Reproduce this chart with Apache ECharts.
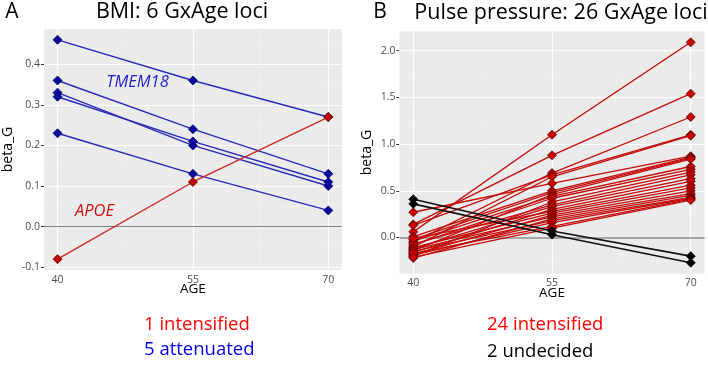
<!DOCTYPE html>
<html>
<head>
<meta charset="utf-8">
<script src="https://cdn.jsdelivr.net/npm/echarts@6/dist/echarts.min.js"></script>
<style>
  html, body { margin: 0; padding: 0; background: #fff; }
  #chart { width: 708px; height: 365px; }
</style>
</head>
<body>
<div id="chart"></div>
<script>
// ages where beta_G was estimated
const ages = [40, 55, 70];
const ageMinor = [47.5, 62.5];

// BMI loci, beta_G at age 40 / 55 / 70
const bmiAttenuated = [
  [0.46, 0.36, 0.27],
  [0.36, 0.24, 0.13],
  [0.33, 0.20, 0.10],
  [0.32, 0.21, 0.11],
  [0.23, 0.13, 0.04]
];
const bmiIntensified = [
  [-0.08, 0.11, 0.27]
];
const bmiTicks = [-0.1, 0.0, 0.1, 0.2, 0.3, 0.4];
const bmiMinor = [-0.05, 0.05, 0.15, 0.25, 0.35, 0.45];

// pulse pressure loci, beta_G at age 40 / 55 / 70
const ppIntensified = [
  [0.06, 1.10, 2.09],
  [0.14, 0.88, 1.54],
  [-0.05, 0.69, 1.29],
  [0.13, 0.67, 1.10],
  [-0.10, 0.65, 1.09],
  [0.27, 0.58, 0.87],
  [0.01, 0.50, 0.86],
  [-0.02, 0.48, 0.85],
  [-0.14, 0.46, 0.84],
  [-0.04, 0.44, 0.76],
  [-0.08, 0.42, 0.73],
  [-0.20, 0.38, 0.70],
  [-0.07, 0.35, 0.67],
  [-0.12, 0.33, 0.63],
  [-0.16, 0.30, 0.60],
  [-0.01, 0.28, 0.56],
  [-0.11, 0.26, 0.53],
  [-0.18, 0.24, 0.50],
  [-0.13, 0.22, 0.47],
  [-0.22, 0.20, 0.45],
  [-0.15, 0.18, 0.43],
  [-0.19, 0.16, 0.42],
  [-0.17, 0.12, 0.41],
  [-0.21, 0.10, 0.40]
];
const ppUndecided = [
  [0.41, 0.07, -0.20],
  [0.36, 0.03, -0.27]
];
const ppTicks = [0.0, 0.5, 1.0, 1.5, 2.0];
const ppMinor = [-0.25, 0.25, 0.75, 1.25, 1.75];

const chart = echarts.init(document.getElementById('chart'));

// ggplot style 5% expansion
function expand(rows) {
  const vals = [].concat(...rows);
  const lo = Math.min(...vals), hi = Math.max(...vals);
  const pad = (hi - lo) * 0.05;
  return [lo - pad, hi + pad];
}
const bmiRange = expand(bmiAttenuated.concat(bmiIntensified));
const ppRange = expand(ppIntensified.concat(ppUndecided));
const ageRange = [ages[0] - 1.5, ages[2] + 1.5];

function lines(rows, idx, color, width) {
  return rows.map(r => ({
    type: 'line',
    xAxisIndex: idx,
    yAxisIndex: idx,
    data: r.map((v, i) => [ages[i], v]),
    symbol: 'none',
    lineStyle: { color: color, width: width },
    silent: true,
    z: 3
  }));
}

function points(rows, idx, fill, border, size) {
  const pts = [];
  rows.forEach(r => r.forEach((v, i) => pts.push([ages[i], v])));
  return {
    type: 'scatter',
    xAxisIndex: idx,
    yAxisIndex: idx,
    data: pts,
    symbol: 'diamond',
    symbolSize: size,
    itemStyle: { color: fill, borderColor: border, borderWidth: 0.8, opacity: 1 },
    silent: true,
    z: 4
  };
}

function gridLines(idx, yMajor, yMinor, zeroColor, zeroWidth) {
  const d = [];
  ageMinor.forEach(v => d.push({ xAxis: v, lineStyle: { color: '#F4F4F4', width: 0.6, type: 'solid' } }));
  yMinor.forEach(v => d.push({ yAxis: v, lineStyle: { color: '#F4F4F4', width: 0.6, type: 'solid' } }));
  ages.forEach(v => d.push({ xAxis: v, lineStyle: { color: '#FFFFFF', width: 1.2, type: 'solid' } }));
  yMajor.forEach(v => d.push({ yAxis: v, lineStyle: { color: '#FFFFFF', width: 1.2, type: 'solid' } }));
  d.push({ yAxis: 0, lineStyle: { color: zeroColor, width: zeroWidth, type: 'solid' } });
  return {
    type: 'scatter',
    xAxisIndex: idx,
    yAxisIndex: idx,
    data: [],
    markLine: {
      silent: true,
      symbol: ['none', 'none'],
      label: { show: false },
      animation: false,
      z: 1,
      data: d
    }
  };
}

const tickText = { color: '#4D4D4D', fontSize: 10.5, fontFamily: 'Open Sans' };
const titleText = { color: '#000', fontSize: 14, fontFamily: 'Open Sans' };

function xAxis(idx) {
  return {
    gridIndex: idx,
    type: 'value',
    min: ageRange[0],
    max: ageRange[1],
    axisLine: { show: false },
    splitLine: { show: false },
    axisTick: { show: true, customValues: ages, length: 3, lineStyle: { color: '#333' } },
    axisLabel: Object.assign({ customValues: ages, margin: 4 }, tickText),
    name: 'AGE',
    nameLocation: 'middle',
    nameGap: 12,
    nameMoveOverlap: false,
    nameTextStyle: Object.assign({}, titleText, { fontSize: 13.5, verticalAlign: 'top' })
  };
}

function yAxis(idx, range, ticks, gap) {
  return {
    gridIndex: idx,
    type: 'value',
    min: range[0],
    max: range[1],
    axisLine: { show: false },
    splitLine: { show: false },
    axisTick: { show: true, customValues: ticks, length: 3, lineStyle: { color: '#333' } },
    axisLabel: Object.assign({ customValues: ticks, margin: 4, formatter: v => v.toFixed(1) }, tickText),
    name: 'beta_G',
    nameLocation: 'middle',
    nameGap: gap,
    nameMoveOverlap: false,
    nameTextStyle: titleText
  };
}

const option = {
  animation: false,
  grid: [
    { left: 38.7, top: 28.9, width: 303.1, height: 241.2, show: true, backgroundColor: '#EBEBEB', borderWidth: 0 },
    { left: 399.4, top: 31.3, width: 305.2, height: 242.4, show: true, backgroundColor: '#EBEBEB', borderWidth: 0 }
  ],
  xAxis: [xAxis(0), xAxis(1)],
  yAxis: [yAxis(0, bmiRange, bmiTicks, 29), yAxis(1, ppRange, ppTicks, 25)],
  series: [].concat(
    gridLines(0, bmiTicks, bmiMinor, '#808080', 1.1),
    gridLines(1, ppTicks, ppMinor, '#A6A6A6', 1.8),
    lines(bmiAttenuated, 0, '#2A2AB8', 1.4),
    lines(bmiIntensified, 0, '#D02828', 1.4),
    points(bmiAttenuated, 0, '#0A0AA0', '#00005A', 9),
    points(bmiIntensified, 0, '#C80000', '#5A0000', 9),
    lines(ppIntensified, 1, '#C40A0A', 1.3),
    lines(ppUndecided, 1, '#111111', 1.6),
    points(ppIntensified, 1, '#D00000', '#4A0000', 9),
    points(ppUndecided, 1, '#000000', '#000000', 9)
  ),
  graphic: [
    { type: 'text', x: 12, y: 12, style: { text: 'A', fontSize: 21, fontFamily: 'Open Sans', fill: '#000', align: 'center', verticalAlign: 'middle' } },
    { type: 'text', x: 182, y: 12, style: { text: 'BMI: 6 GxAge loci', fontSize: 21.5, fontFamily: 'Open Sans', fill: '#000', align: 'center', verticalAlign: 'middle' } },
    { type: 'text', x: 380, y: 12, style: { text: 'B', fontSize: 21, fontFamily: 'Open Sans', fill: '#000', align: 'center', verticalAlign: 'middle' } },
    { type: 'text', x: 561, y: 13, style: { text: 'Pulse pressure: 26 GxAge loci', fontSize: 21.5, fontFamily: 'Open Sans', fill: '#000', align: 'center', verticalAlign: 'middle' } },
    { type: 'text', x: 137.5, y: 82, z: 10, style: { text: 'TMEM18', fontSize: 16.5, fontStyle: 'italic', fontFamily: 'Open Sans', fill: '#1E1ED0', align: 'center', verticalAlign: 'middle' } },
    { type: 'text', x: 94.5, y: 211, z: 10, style: { text: 'APOE', fontSize: 16.5, fontStyle: 'italic', fontFamily: 'Open Sans', fill: '#CC1010', align: 'center', verticalAlign: 'middle' } },
    { type: 'text', x: 144, y: 324.5, style: { text: '1 intensified', fontSize: 18.5, fontFamily: 'Open Sans', fill: '#FF0000', align: 'left', verticalAlign: 'middle' } },
    { type: 'text', x: 144, y: 350, style: { text: '5 attenuated', fontSize: 18.5, fontFamily: 'Open Sans', fill: '#0000EE', align: 'left', verticalAlign: 'middle' } },
    { type: 'text', x: 487, y: 325, style: { text: '24 intensified', fontSize: 18.5, fontFamily: 'Open Sans', fill: '#FF0000', align: 'left', verticalAlign: 'middle' } },
    { type: 'text', x: 487, y: 352, style: { text: '2 undecided', fontSize: 18.5, fontFamily: 'Open Sans', fill: '#000000', align: 'left', verticalAlign: 'middle' } }
  ]
};

chart.setOption(option);
</script>
</body>
</html>
